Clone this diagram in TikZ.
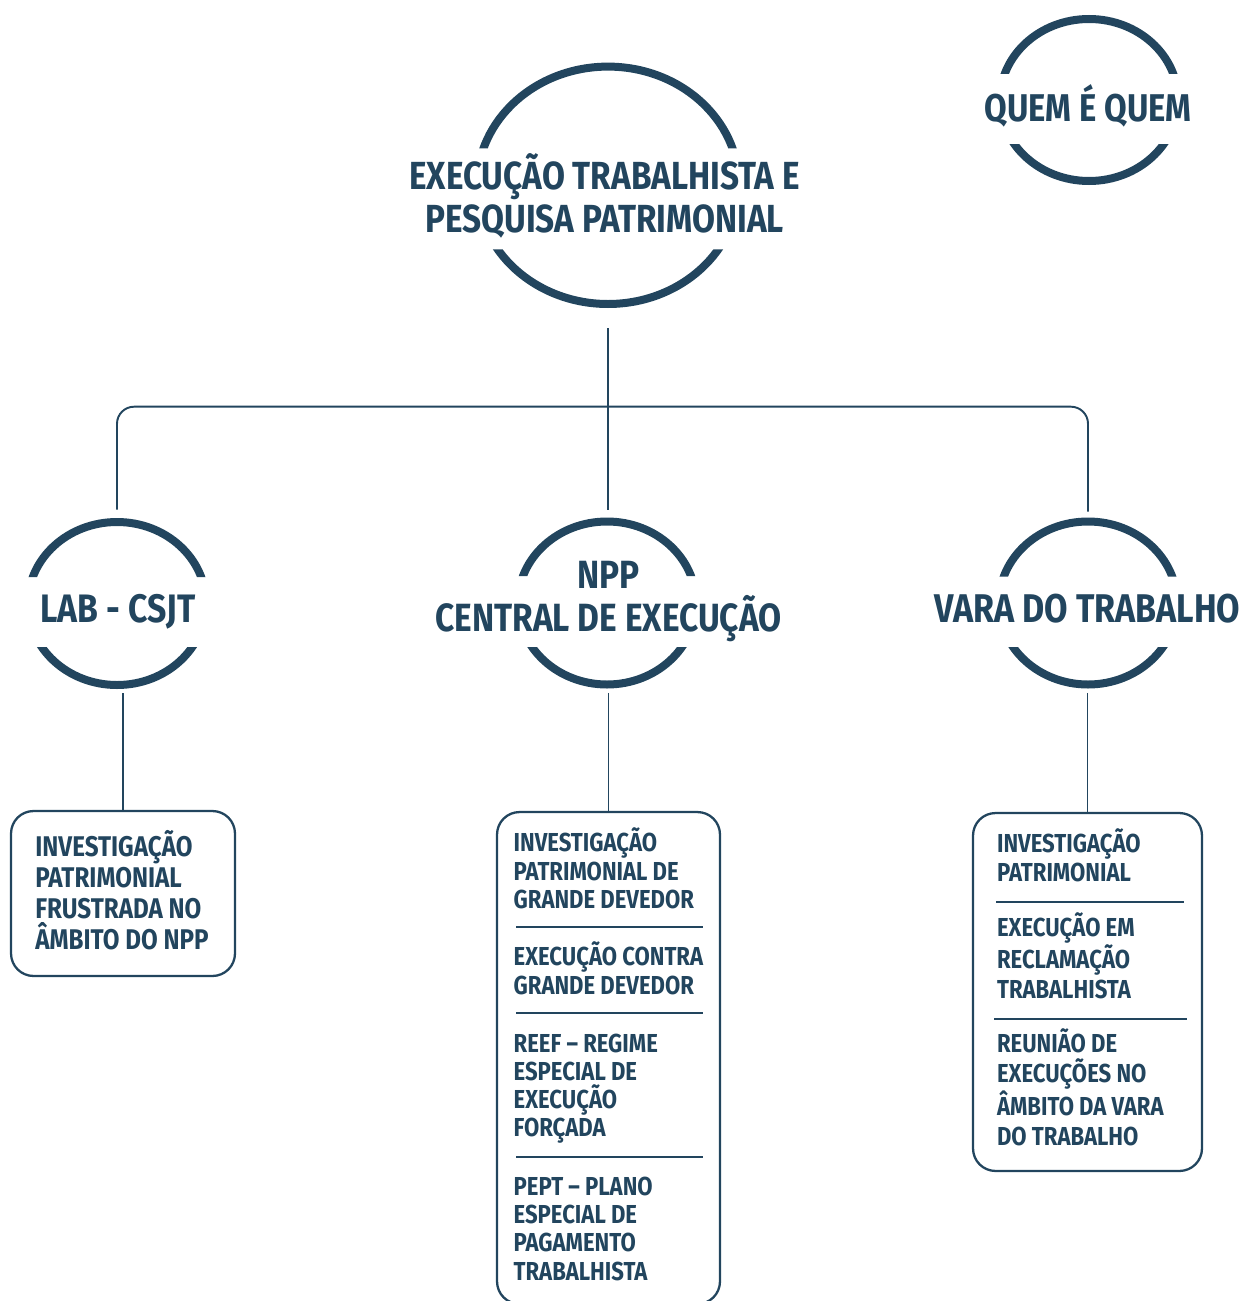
\documentclass[tikz,border=0pt]{standalone}
\usepackage{fontspec}
\setmainfont{Fira Sans}[FakeStretch=0.85]
\usetikzlibrary{positioning, calc, shapes.geometric}
\definecolor{navy}{RGB}{34, 69, 94}

\begin{document}
\begin{tikzpicture}[
    x=0.02cm, y=0.02cm,
    ringbig/.style={ellipse, inner sep=0pt, minimum width=5.4cm, minimum height=4.91cm},
    ringsmall/.style={ellipse, inner sep=0pt, minimum width=3.72cm, minimum height=3.42cm},
    ringline/.style={draw=navy, line width=0.16cm},
    heading/.style={font=\fontsize{#1}{24.6}\selectfont\bfseries, text=navy, align=center, inner sep=0pt, anchor=base},
    item/.style={font=\fontsize{14.8}{#1}\selectfont\bfseries, text=navy, align=left, inner sep=0pt, anchor=base west},
    panel/.style={draw=navy, line width=1.3pt, rounded corners=0.45cm, inner sep=0pt},
    link/.style={draw=navy, line width=1.1pt},
    rule/.style={draw=navy, line width=1.1pt},
  ]
  \useasboundingbox (0,0) rectangle (1245,-1301);

  % Rings
  \node[ringbig] (main) at (608,-185.3) {};
  \node[ringsmall] (quem) at (1089,-100) {};
  \node[ringsmall] (lab) at (117,-603.5) {};
  \node[ringsmall] (npp) at (607,-603) {};
  \node[ringsmall] (vara) at (1088,-603) {};

  \foreach \n/\a/\b/\t/\d in {main/131/118.7/37/64, quem/89/81/26/44, lab/89/81.5/26.5/43.5, npp/89/81.5/27/44, vara/89/81.5/26.5/44} {
    \begin{scope}
      \clip ($(\n.center)+(-200,200)$) rectangle ($(\n.center)+(200,\t)$)
            ($(\n.center)+(-200,-\d)$) rectangle ($(\n.center)+(200,-200)$);
      \draw[ringline] (\n.center) ellipse[x radius=\a, y radius=\b];
    \end{scope}
  }

  % Headings (base = last line)
  \node[heading=22.3] (maintitle) at (604.5,-232.7) {EXECUÇÃO TRABALHISTA E\\PESQUISA PATRIMONIAL};
  \node[heading=22] (quemtitle) at (1088,-121.7) {QUEM É QUEM};
  \node[heading=22.6] (labtitle) at (117.9,-622.3) {LAB - CSJT};
  \node[heading=22.4] (npptitle) at (608.5,-631.7) {NPP\\CENTRAL DE EXECUÇÃO};
  \node[heading=22.8] (varatitle) at (1087.5,-622.3) {VARA DO TRABALHO};

  % Boxes
  \node[panel, minimum width=4.48cm, minimum height=3.30cm] (inv) at (123,-893.5) {};
  \node[panel, minimum width=4.46cm, minimum height=9.84cm] (npd) at (608.5,-1058) {};
  \node[panel, minimum width=4.58cm, minimum height=7.16cm] (vtd) at (1087.5,-992) {};

  % Tree
  \coordinate (fork) at (608,-406.7);
  \draw[link, rounded corners=0.34cm, shorten <=0.16cm, shorten >=0.11cm]
    (lab.north) |- (fork) -| (vara.north);
  \draw[link, shorten <=0.4cm, shorten >=0.15cm] (main.south) -- (main.south |- npp.north);
  \draw[link, shorten <=0.08cm] (lab.south -| inv.north) -- (inv.north);
  \draw[link, shorten <=0.08cm] (npp.south -| npd.north) -- (npd.north);
  \draw[link, shorten <=0.08cm] (vara.south -| vtd.north) -- (vtd.north);

  % Items (base = last line)
  \node[item=17.6, font=\fontsize{16.2}{17.6}\selectfont\bfseries] (inv1) at (35,-949) {INVESTIGAÇÃO\\PATRIMONIAL\\FRUSTRADA NO\\ÂMBITO DO NPP};

  \node[item=16.05] (npd1) at (513.3,-908.3) {INVESTIGAÇÃO\\PATRIMONIAL DE\\GRANDE DEVEDOR};
  \node[item=16.05] (npd2) at (513.3,-994) {EXECUÇÃO CONTRA\\GRANDE DEVEDOR};
  \node[item=16.05] (npd3) at (513.3,-1136.7) {REEF – REGIME\\ESPECIAL DE\\EXECUÇÃO\\FORÇADA};
  \node[item=16.05] (npd4) at (513.3,-1280) {PEPT – PLANO\\ESPECIAL DE\\PAGAMENTO\\TRABALHISTA};
  \foreach \y in {926.7, 1013.3, 1156.7}
    \draw[rule] (516,-\y) -- (702.7,-\y);

  \node[item=16.85] (vtd1) at (996.7,-881.7) {INVESTIGAÇÃO\\PATRIMONIAL};
  \node[item=16.85] (vtd2) at (996.7,-998.3) {EXECUÇÃO EM\\RECLAMAÇÃO\\TRABALHISTA};
  \node[item=16.85] (vtd3) at (996.7,-1145) {REUNIÃO DE\\EXECUÇÕES NO\\ÂMBITO DA VARA\\DO TRABALHO};
  \draw[rule] (996,-902.3) -- (1184,-902.3);
  \draw[rule] (994,-1019) -- (1186.7,-1019);

\end{tikzpicture}
\end{document}
